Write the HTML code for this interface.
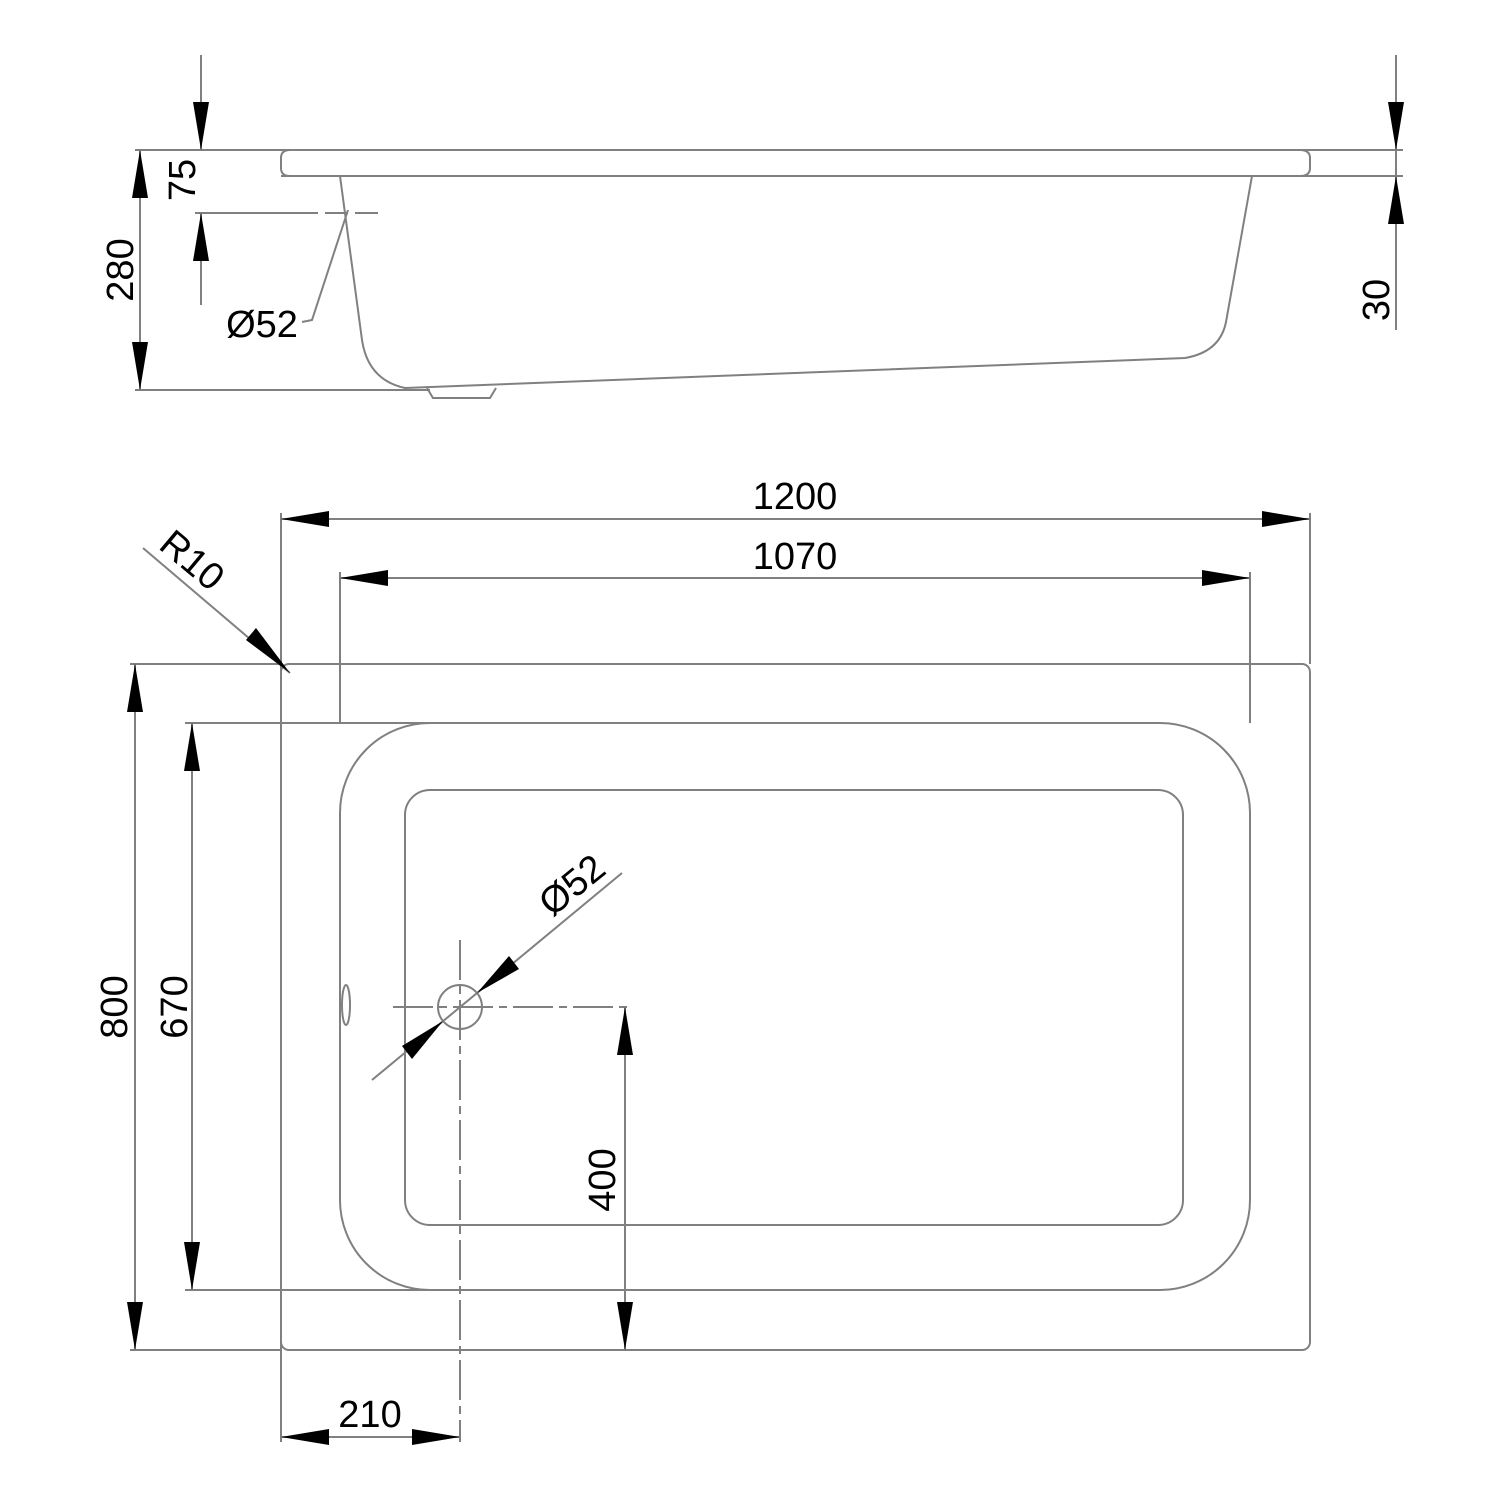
<!DOCTYPE html>
<html><head><style>html,body{margin:0;padding:0;background:#fff}svg{display:block}</style></head>
<body>
<svg width="1500" height="1500" viewBox="0 0 1500 1500" xmlns="http://www.w3.org/2000/svg">
<defs>
<marker id="a" viewBox="0 0 48 16" refX="48" refY="8" markerWidth="48" markerHeight="16" markerUnits="userSpaceOnUse" orient="auto"><path d="M0,0 L48,8 L0,16 Z" fill="#000"/></marker>
</defs>
<g stroke="#808080" stroke-width="2" fill="none">
<!-- SIDE VIEW -->
<line x1="135" y1="150" x2="1403" y2="150"/>
<line x1="281" y1="176" x2="1403" y2="176"/>
<path d="M290,150 Q281,150 281,158 L281,168 Q281,176 290,176"/>
<path d="M1300,150 Q1310,150 1310,158 L1310,168 Q1310,176 1300,176"/>
<path d="M340,176 L362,340 Q368,380 405,388 L1185,358 Q1220,352 1226,322 L1252,176"/>
<path d="M427,388 L433,398 L490,398 L496,388"/>
<line x1="135" y1="390" x2="430" y2="390"/>
<line x1="201" y1="55" x2="201" y2="150"/>
<line x1="201" y1="213" x2="201" y2="305"/>
<line x1="195" y1="213" x2="318" y2="213"/>
<line x1="325" y1="213" x2="348" y2="213"/>
<line x1="355" y1="213" x2="378" y2="213"/>
<polyline points="302,322 312,320 348,210"/>
<line x1="140" y1="150" x2="140" y2="390"/>
<line x1="1396" y1="55" x2="1396" y2="330"/>
<!-- PLAN VIEW -->
<rect x="281" y="664" width="1029" height="686" rx="8"/>
<line x1="130" y1="664" x2="281" y2="664"/>
<line x1="130" y1="1350" x2="281" y2="1350"/>
<rect x="340" y="723" width="910" height="567" rx="90"/>
<line x1="185" y1="723" x2="430" y2="723"/>
<line x1="185" y1="1290" x2="430" y2="1290"/>
<rect x="405" y="790" width="778" height="435" rx="25"/>
<circle cx="460" cy="1007" r="22"/>
<ellipse cx="346" cy="1005" rx="4" ry="20"/>
<line x1="281" y1="513" x2="281" y2="1442"/>
<line x1="1310" y1="513" x2="1310" y2="664"/>
<line x1="340" y1="572" x2="340" y2="723"/>
<line x1="1250" y1="572" x2="1250" y2="723"/>
<line x1="460" y1="940" x2="460" y2="1442" stroke-dasharray="40,6,8,6"/>
<line x1="393" y1="1007" x2="630" y2="1007" stroke-dasharray="40,6,8,6"/>
<line x1="372" y1="1080" x2="622" y2="873"/>
<line x1="143" y1="548" x2="290" y2="673"/>
<line x1="135" y1="664" x2="135" y2="1350"/>
<line x1="192" y1="723" x2="192" y2="1290"/>
<line x1="625" y1="1007" x2="625" y2="1350"/>
<line x1="281" y1="519" x2="1310" y2="519"/>
<line x1="340" y1="578" x2="1250" y2="578"/>
<line x1="281" y1="1437" x2="460" y2="1437"/>
</g>
<g fill="#000">
<!-- arrows side -->
<path d="M193,102 L209,102 L201,150 Z"/>
<path d="M193,261 L209,261 L201,213 Z"/>
<path d="M132,198 L148,198 L140,150 Z"/>
<path d="M132,342 L148,342 L140,390 Z"/>
<path d="M1388,102 L1404,102 L1396,150 Z"/>
<path d="M1388,224 L1404,224 L1396,176 Z"/>
<!-- plan arrows -->
<path d="M329,511 L329,527 L281,519 Z"/>
<path d="M1262,511 L1262,527 L1310,519 Z"/>
<path d="M388,570 L388,586 L340,578 Z"/>
<path d="M1202,570 L1202,586 L1250,578 Z"/>
<path d="M127,712 L143,712 L135,664 Z"/>
<path d="M127,1302 L143,1302 L135,1350 Z"/>
<path d="M184,771 L200,771 L192,723 Z"/>
<path d="M184,1242 L200,1242 L192,1290 Z"/>
<path d="M617,1055 L633,1055 L625,1007 Z"/>
<path d="M617,1302 L633,1302 L625,1350 Z"/>
<path d="M329,1429 L329,1445 L281,1437 Z"/>
<path d="M412,1429 L412,1445 L460,1437 Z"/>
<path d="M290,673 L246,640 L256,628 Z"/>
<path d="M477,993 L509,956 L519,969 Z"/>
<path d="M443,1021 L402,1046 L412,1059 Z"/>
</g>
<g font-family="Liberation Sans, sans-serif" font-size="38" fill="#000" text-anchor="middle">
<text x="795" y="509">1200</text>
<text x="795" y="569">1070</text>
<text x="370" y="1427">210</text>
<text transform="translate(195,180) rotate(-90)">75</text>
<text transform="translate(133,270) rotate(-90)">280</text>
<text transform="translate(1389,300) rotate(-90)">30</text>
<text transform="translate(127,1007) rotate(-90)">800</text>
<text transform="translate(187,1007) rotate(-90)">670</text>
<text transform="translate(615,1180) rotate(-90)">400</text>
<text x="262" y="337">Ø52</text>
<text transform="translate(580,895) rotate(-39)">Ø52</text>
<text transform="translate(184,570) rotate(40)">R10</text>
</g>
</svg>
</body></html>
